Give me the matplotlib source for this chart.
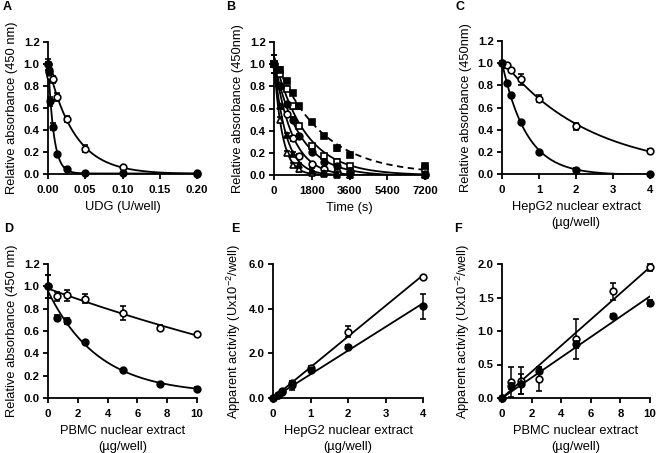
import numpy as np
import matplotlib
matplotlib.use("Agg")
import matplotlib.pyplot as plt

plt.rcParams['font.family'] = ['Liberation Sans', 'DejaVu Sans']
plt.rcParams['mathtext.fontset'] = 'custom'
plt.rcParams['mathtext.rm'] = 'Liberation Sans'
plt.rcParams['mathtext.it'] = 'Liberation Sans:italic'
plt.rcParams['mathtext.bf'] = 'Liberation Sans:bold'

# ---- data ----
# A: UDG titration
udg = [0, 0.0015625, 0.003125, 0.00625, 0.0125, 0.025, 0.05, 0.1, 0.2]
a_filled = [1.0, 0.93, 0.66, 0.43, 0.18, 0.05, 0.01, 0.005, 0.0]
a_filled_err = [0.05, 0.03, 0.04, 0.03, 0.01, 0.01, 0.0, 0.0, 0.0]
a_open = [1.0, 0.95, 0.89, 0.86, 0.70, 0.50, 0.23, 0.06, 0.005]
a_open_err = [0.02, 0.03, 0.03, 0.03, 0.04, 0.03, 0.03, 0.01, 0.0]

# B: time course
time_s = [0, 300, 600, 900, 1200, 1800, 2400, 3000, 3600, 7200]
b_sq_filled = [1.0, 0.95, 0.85, 0.74, 0.62, 0.48, 0.35, 0.24, 0.18, 0.08]
b_sq_open = [1.0, 0.91, 0.78, 0.62, 0.44, 0.26, 0.17, 0.12, 0.08, 0.05]
b_ci_filled = [1.0, 0.80, 0.64, 0.50, 0.35, 0.21, 0.12, 0.08, 0.04, 0.01]
b_ci_open = [1.0, 0.80, 0.55, 0.33, 0.17, 0.10, 0.05, 0.03, 0.02, 0.0]
b_tri_filled = [1.0, 0.62, 0.36, 0.19, 0.09, 0.04, 0.02, 0.01, 0.0, 0.0]
b_tri_open = [1.0, 0.50, 0.20, 0.09, 0.05, 0.02, 0.01, 0.0, 0.0, 0.0]
b_err0 = 0.08

# C / E: HepG2 nuclear extract
hepg2 = [0, 0.125, 0.25, 0.5, 1, 2, 4]
c_filled = [1.0, 0.82, 0.71, 0.47, 0.20, 0.04, 0.0]
c_filled_err = [0.02, 0.01, 0.01, 0.01, 0.01, 0.01, 0.0]
c_open = [1.0, 0.98, 0.94, 0.855, 0.68, 0.43, 0.21]
c_open_err = [0.02, 0.02, 0.02, 0.05, 0.03, 0.03, 0.02]
e_open = [0, 0.15, 0.30, 0.66, 1.33, 2.97, 5.41]
e_open_err = [0, 0.05, 0.08, 0.1, 0.1, 0.25, 0.05]
e_filled = [0, 0.12, 0.25, 0.58, 1.25, 2.30, 4.10]
e_filled_err = [0, 0.05, 0.08, 0.2, 0.1, 0.08, 0.55]

# D / F: PBMC nuclear extract
pbmc = [0, 0.625, 1.25, 2.5, 5, 7.5, 10]
d_filled = [1.0, 0.72, 0.69, 0.50, 0.25, 0.125, 0.085]
d_filled_err = [0.1, 0.02, 0.03, 0.01, 0.01, 0.01, 0.01]
d_open = [1.0, 0.91, 0.92, 0.89, 0.76, 0.63, 0.57]
d_open_err = [0.1, 0.04, 0.05, 0.04, 0.065, 0.02, 0.01]
f_open = [0, 0.24, 0.26, 0.28, 0.88, 1.59, 1.95]
f_open_err = [0, 0.23, 0.2, 0.18, 0.3, 0.13, 0.05]
f_filled = [0, 0.18, 0.21, 0.41, 0.80, 1.22, 1.42]
f_filled_err = [0, 0.05, 0.15, 0.05, 0.05, 0.03, 0.04]


def fit_decay(x, y):
    # one-phase decay: y = span*exp(-k x) + plateau, grid search on k
    x = np.asarray(x, float)
    y = np.asarray(y, float)
    best = None
    for k in np.logspace(-3, 3, 3000) / x.max():
        M = np.column_stack([np.exp(-k * x), np.ones_like(x)])
        coef, *_ = np.linalg.lstsq(M, y, rcond=None)
        err = np.sum((M @ coef - y) ** 2)
        if best is None or err < best[0]:
            best = (err, k, coef)
    _, k, coef = best
    xs = np.linspace(0, x.max(), 300)
    return xs, coef[0] * np.exp(-k * xs) + coef[1]


def fit_origin(x, y):
    x = np.asarray(x, float)
    y = np.asarray(y, float)
    slope = np.sum(x * y) / np.sum(x * x)
    xs = np.array([0, x.max()])
    return xs, slope * xs


def points(ax, x, y, err, marker, filled):
    fc = 'black' if filled else 'white'
    c = ax.errorbar(x, y, yerr=err, fmt=marker, ms=4.8, mfc=fc, mec='black',
                    mew=1.2, ecolor='black', elinewidth=1.1, capsize=2.2,
                    capthick=1.1, zorder=4 if filled else 3)
    for art in c.get_children():
        art.set_clip_on(False)


def style(ax, xlim, ylim, xticks, yticks, xfmt, yfmt, xlabel, ylabel):
    ax.set_xlim(xlim)
    ax.set_ylim(ylim)
    ax.set_xticks(xticks)
    ax.set_yticks(yticks)
    ax.set_xticklabels([xfmt.format(v) for v in xticks])
    ax.set_yticklabels([yfmt.format(v) for v in yticks])
    for s in ['top', 'right']:
        ax.spines[s].set_visible(False)
    for s in ['left', 'bottom']:
        ax.spines[s].set_linewidth(1.3)
    ax.tick_params(width=1.3, length=3.5, labelsize=8.2)
    ax.tick_params(axis='x', pad=4.5)
    ax.tick_params(axis='y', pad=2.5)
    for lab in ax.get_xticklabels() + ax.get_yticklabels():
        lab.set_fontweight('bold')
    ax.set_xlabel(xlabel, fontsize=9.3, labelpad=4, linespacing=1.45)
    ax.set_ylabel(ylabel, fontsize=9.3, labelpad=4)


W, H = 661, 453
fig = plt.figure(figsize=(W / 100, H / 100), dpi=100)


def add_axes(l, r, t, b):
    return fig.add_axes([l / W, (H - b) / H, (r - l) / W, (b - t) / H])


axA = add_axes(48, 197, 42, 174)
axB = add_axes(274, 425, 42, 175)
axC = add_axes(502, 650, 41, 174)
axD = add_axes(48, 197, 264, 398)
axE = add_axes(273, 423, 264, 398)
axF = add_axes(502, 650, 264, 398)

lw = 1.3
abs_ticks = [0, 0.2, 0.4, 0.6, 0.8, 1.0, 1.2]
ug = 'nuclear extract\n(\u00b5g/well)'

# A
for y in (a_open, a_filled):
    xs, ys = fit_decay(udg, y)
    axA.plot(xs, ys, color='black', lw=lw, zorder=2)
points(axA, udg, a_open, a_open_err, 'o', False)
points(axA, udg, a_filled, a_filled_err, 'o', True)
style(axA, (0, 0.2), (0, 1.2), [0, 0.05, 0.1, 0.15, 0.2], abs_ticks,
      '{:.2f}', '{:.1f}', 'UDG (U/well)', 'Relative absorbance (450 nm)')

# B
b_series = [
    (b_sq_filled, 's', True, '--'),
    (b_sq_open, 's', False, '-'),
    (b_ci_filled, 'o', True, '-'),
    (b_ci_open, 'o', False, '-'),
    (b_tri_filled, '^', True, '-'),
    (b_tri_open, '^', False, '-'),
]
for y, m, f, ls in b_series:
    xs, ys = fit_decay(time_s, y)
    if ls == '--':
        axB.plot(xs, ys, color='black', lw=lw, ls=(0, (3.5, 2.5)), zorder=2)
    else:
        axB.plot(xs, ys, color='black', lw=lw, zorder=2)
for y, m, f, ls in b_series:
    err = [b_err0] + [0.02] * (len(y) - 1)
    points(axB, time_s, y, err, m, f)
style(axB, (0, 7200), (0, 1.2), [0, 1800, 3600, 5400, 7200], abs_ticks,
      '{:d}', '{:.1f}', 'Time (s)', 'Relative absorbance (450nm)')

# C
for y in (c_open, c_filled):
    xs, ys = fit_decay(hepg2, y)
    axC.plot(xs, ys, color='black', lw=lw, zorder=2)
points(axC, hepg2, c_open, c_open_err, 'o', False)
points(axC, hepg2, c_filled, c_filled_err, 'o', True)
style(axC, (0, 4), (0, 1.2), [0, 1, 2, 3, 4], abs_ticks,
      '{:d}', '{:.1f}', 'HepG2 ' + ug, 'Relative absorbance (450nm)')

# D
for y in (d_open, d_filled):
    xs, ys = fit_decay(pbmc, y)
    axD.plot(xs, ys, color='black', lw=lw, zorder=2)
points(axD, pbmc, d_open, d_open_err, 'o', False)
points(axD, pbmc, d_filled, d_filled_err, 'o', True)
style(axD, (0, 10), (0, 1.2), [0, 2, 4, 6, 8, 10], abs_ticks,
      '{:d}', '{:.1f}', 'PBMC ' + ug, 'Relative absorbance (450 nm)')

act = 'Apparent activity (Ux10$^{-2}$/well)'
# E
for y in (e_open, e_filled):
    xs, ys = fit_origin(hepg2, y)
    axE.plot(xs, ys, color='black', lw=lw, zorder=2)
points(axE, hepg2, e_open, e_open_err, 'o', False)
points(axE, hepg2, e_filled, e_filled_err, 'o', True)
style(axE, (0, 4), (0, 6), [0, 1, 2, 3, 4], [0, 2, 4, 6],
      '{:d}', '{:.1f}', 'HepG2 ' + ug, act)

# F
for y in (f_open, f_filled):
    xs, ys = fit_origin(pbmc, y)
    axF.plot(xs, ys, color='black', lw=lw, zorder=2)
points(axF, pbmc, f_open, f_open_err, 'o', False)
points(axF, pbmc, f_filled, f_filled_err, 'o', True)
style(axF, (0, 10), (0, 2), [0, 2, 4, 6, 8, 10], [0, 0.5, 1.0, 1.5, 2.0],
      '{:d}', '{:.1f}', 'PBMC ' + ug, act)

# panel letters
for letter, (px, py) in zip('ABCDEF', [(7, 7), (231, 7), (460, 7),
                                      (9, 229), (235, 229), (458, 229)]):
    fig.text(px / W, 1 - py / H, letter, fontsize=9, fontweight='bold',
             ha='center', va='center')

fig.savefig('out.png', dpi=100)
